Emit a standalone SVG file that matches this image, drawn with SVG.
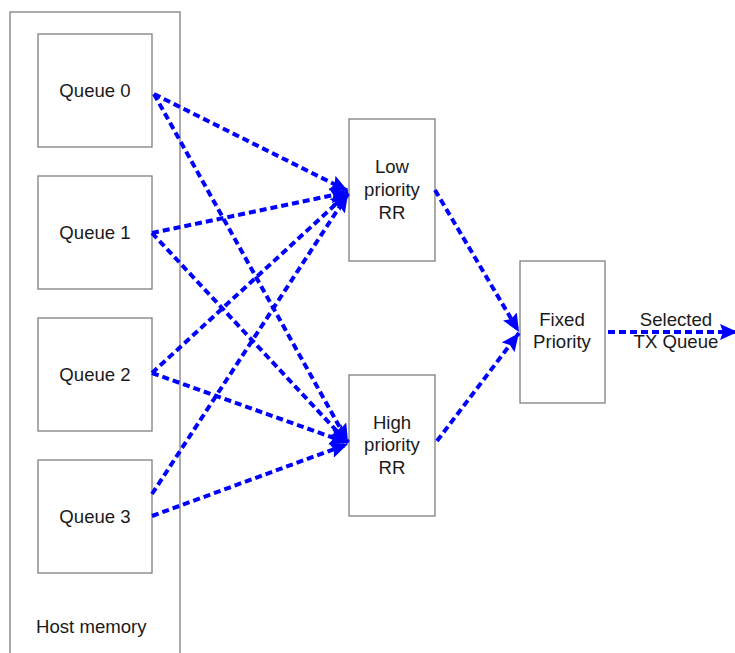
<svg xmlns="http://www.w3.org/2000/svg" width="735" height="653" viewBox="0 0 735 653">
<style>
.box{fill:#fff;stroke:#7f7f7f;stroke-width:1.3}
.t{font-family:"Liberation Sans",Arial,sans-serif;font-size:18.6px;fill:#1a1a1a;text-anchor:middle}
.c{fill:none;stroke:#0000ff;stroke-width:4;stroke-dasharray:7 4}
</style>
<defs>
<marker id="ah" markerUnits="userSpaceOnUse" markerWidth="20" markerHeight="16" refX="18" refY="8" orient="auto">
<path d="M0,0 L18,8 L0,16 L3,8 z" fill="#0000ff"/>
</marker>
</defs>
<g id="host">
<rect class="box" x="10" y="12" width="170" height="700"/>
<text class="t" x="36" y="633" style="text-anchor:start">Host memory</text>
</g>
<g id="q0"><rect class="box" x="38" y="34" width="114" height="113"/><text class="t" x="95" y="97">Queue 0</text></g>
<g id="q1"><rect class="box" x="38" y="176" width="114" height="113"/><text class="t" x="95" y="239">Queue 1</text></g>
<g id="q2"><rect class="box" x="38" y="318" width="114" height="113"/><text class="t" x="95" y="381">Queue 2</text></g>
<g id="q3"><rect class="box" x="38" y="460" width="114" height="113"/><text class="t" x="95" y="523">Queue 3</text></g>
<g id="low"><rect class="box" x="349" y="119" width="86" height="142"/>
<text class="t" x="392" y="173">Low</text><text class="t" x="392" y="196">priority</text><text class="t" x="392" y="219">RR</text></g>
<g id="high"><rect class="box" x="349" y="375" width="86" height="141"/>
<text class="t" x="392" y="429">High</text><text class="t" x="392" y="451">priority</text><text class="t" x="392" y="474">RR</text></g>
<g id="fixed"><rect class="box" x="520" y="261" width="85" height="142"/>
<text class="t" x="562" y="326">Fixed</text><text class="t" x="562" y="348">Priority</text></g>
<g id="connectors">
<line class="c" x1="154" y1="94" x2="348" y2="191" marker-end="url(#ah)"/>
<line class="c" x1="154" y1="94" x2="348" y2="442" marker-end="url(#ah)"/>
<line class="c" x1="152" y1="233" x2="348" y2="192" marker-end="url(#ah)"/>
<line class="c" x1="152" y1="233" x2="348" y2="443" marker-end="url(#ah)"/>
<line class="c" x1="152" y1="373" x2="348" y2="193" marker-end="url(#ah)"/>
<line class="c" x1="152" y1="373" x2="348" y2="443" marker-end="url(#ah)"/>
<line class="c" x1="152" y1="494" x2="348" y2="194" marker-end="url(#ah)"/>
<line class="c" x1="152" y1="516" x2="348" y2="444" marker-end="url(#ah)"/>
<line class="c" x1="435" y1="190" x2="519" y2="332" marker-end="url(#ah)"/>
<line class="c" x1="437" y1="441" x2="519" y2="333" marker-end="url(#ah)"/>
<line class="c" x1="608" y1="332" x2="738" y2="332" marker-end="url(#ah)"/>
</g>
<g id="label"><text class="t" x="676" y="326">Selected</text><text class="t" x="676" y="348">TX Queue</text></g>
</svg>
